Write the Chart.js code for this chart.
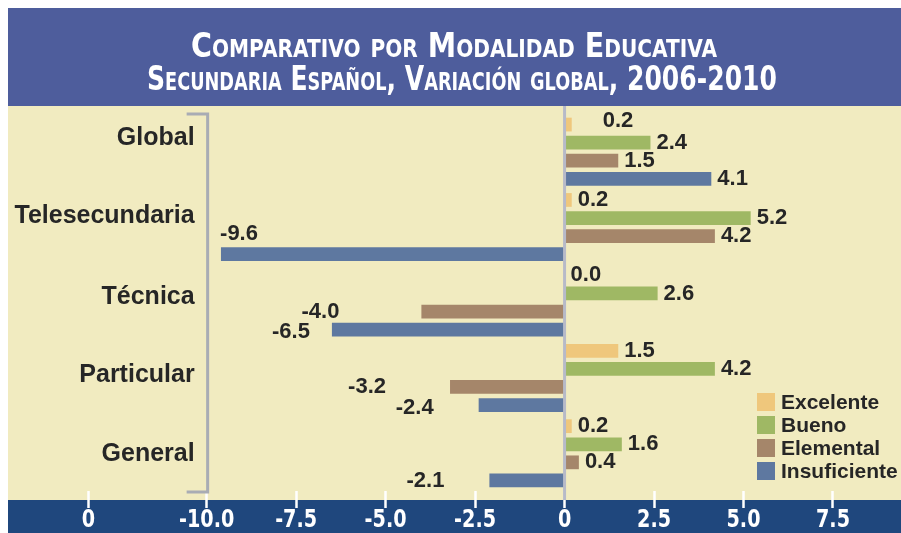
<!DOCTYPE html>
<html>
<head>
<meta charset="utf-8">
<script src="https://cdn.jsdelivr.net/npm/chart.js@4.4.1/dist/chart.umd.min.js"></script>
<style>
  html, body { margin: 0; padding: 0; background: #fff; }
  #wrap { position: relative; width: 901px; height: 533px; }
</style>
</head>
<body>
<div id="wrap"><canvas id="chart"></canvas></div>
<script>
// Data
const categories = ["Global", "Telesecundaria", "Técnica", "Particular", "General"];
const seriesNames = ["Excelente", "Bueno", "Elemental", "Insuficiente"];
const excelente = [0.2, 0.2, 0.0, 1.5, 0.2];
const bueno = [2.4, 5.2, 2.6, 4.2, 1.6];
const elemental = [1.5, 4.2, -4.0, -3.2, 0.4];
const insuficiente = [4.1, -9.6, -6.5, -2.4, -2.1];
const tickValues = [-13.3, -10, -7.5, -5, -2.5, 0, 2.5, 5, 7.5];
const tickLabels = ["0", "-10.0", "-7.5", "-5.0", "-2.5", "0", "2.5", "5.0", "7.5"];
const titleLines = ["Comparativo por Modalidad Educativa", "Secundaria Español, Variación global, 2006-2010"];

const seriesColors = ["#efc77c", "#9fb864", "#a5866a", "#5e78a0"];

// label nudges (px), keyed "dataset-index"
const labelNudge = {
  "0-0": { dx: 25, dy: -4 },
  "3-1": { dx: 82, dy: -20 },
  "2-2": { dx: -37, dy: 0 },
  "3-2": { dx: 23, dy: 2 },
  "2-3": { dx: -19, dy: 0 },
  "3-3": { dx: 0, dy: 3 }
};
// category names sit a bit off the group centres
const categoryNudge = [-14, -11, -5, -3, 1];

const SANS = "'Liberation Sans', Arial, sans-serif";

const backdrop = {
  id: "backdrop",
  beforeDraw(chart) {
    const ctx = chart.ctx;
    ctx.save();
    ctx.fillStyle = "#ffffff";
    ctx.fillRect(0, 0, chart.width, chart.height);
    ctx.fillStyle = "#4e5d9c";
    ctx.fillRect(8, 8, chart.width - 8, 98);
    ctx.fillStyle = "#f1ebc0";
    ctx.fillRect(8, 106, chart.width - 8, 394);
    ctx.fillStyle = "#1f477d";
    ctx.fillRect(8, 500, chart.width - 8, chart.height - 500);

    // title, small caps, squeezed to the narrow width of the original
    ctx.fillStyle = "#ffffff";
    ctx.textAlign = "center";
    ctx.textBaseline = "alphabetic";
    ctx.font = "small-caps bold 34px 'DejaVu Sans'";
    ctx.fillText(titleLines[0], 454, 57, 526);
    ctx.fillText(titleLines[1], 462, 90, 630);
    ctx.restore();
  },
  beforeDatasetsDraw(chart) {
    const ctx = chart.ctx;
    const x = chart.scales.x;
    const y = chart.scales.y;
    ctx.save();
    // bracket next to the category names
    const bx = x.getPixelForValue(-10) + 1;
    ctx.strokeStyle = "#a9acb4";
    ctx.lineWidth = 3;
    ctx.beginPath();
    ctx.moveTo(bx - 21, 114);
    ctx.lineTo(bx, 114);
    ctx.lineTo(bx, 492);
    ctx.lineTo(bx - 21, 492);
    ctx.stroke();

    // category names
    ctx.fillStyle = "#262626";
    ctx.font = "bold 25px " + SANS;
    ctx.textAlign = "right";
    ctx.textBaseline = "middle";
    categories.forEach((c, i) => {
      ctx.fillText(c, bx - 13, y.getPixelForValue(i) + categoryNudge[i]);
    });
    ctx.restore();
  },
  afterDatasetsDraw(chart) {
    const ctx = chart.ctx;
    const x = chart.scales.x;
    ctx.save();
    // zero line
    const zx = x.getPixelForValue(0);
    ctx.strokeStyle = "#b7bac8";
    ctx.lineWidth = 3;
    ctx.beginPath();
    ctx.moveTo(zx, 106);
    ctx.lineTo(zx, 500);
    ctx.stroke();

    // value labels
    ctx.fillStyle = "#262626";
    ctx.font = "bold 22px " + SANS;
    ctx.textBaseline = "middle";
    chart.data.datasets.forEach((ds, di) => {
      const meta = chart.getDatasetMeta(di);
      meta.data.forEach((bar, i) => {
        const v = ds.data[i];
        const n = labelNudge[di + "-" + i] || { dx: 0, dy: 0 };
        if (v >= 0) {
          ctx.textAlign = "left";
          ctx.fillText(v.toFixed(1), Math.max(bar.x, zx) + 6 + n.dx, bar.y + n.dy);
        } else {
          ctx.textAlign = "right";
          ctx.fillText(v.toFixed(1), bar.x - 45 + n.dx, bar.y + n.dy);
        }
      });
    });

    // legend
    ctx.font = "bold 21px " + SANS;
    ctx.textAlign = "left";
    seriesNames.forEach((name, i) => {
      const ly = 402 + i * 23;
      ctx.fillStyle = seriesColors[i];
      ctx.fillRect(757, ly - 9, 18, 18);
      ctx.fillStyle = "#262626";
      ctx.fillText(name, 781, ly + 1);
    });
    ctx.restore();
  },
  afterDraw(chart) {
    // x tick labels in a narrow face, placed by the x scale
    const ctx = chart.ctx;
    const x = chart.scales.x;
    ctx.save();
    ctx.fillStyle = "#ffffff";
    ctx.font = "bold 24px 'DejaVu Sans'";
    ctx.textAlign = "center";
    ctx.textBaseline = "alphabetic";
    tickValues.forEach((v, i) => {
      ctx.save();
      ctx.translate(x.getPixelForValue(v), 527);
      ctx.scale(0.8, 1);
      ctx.fillText(tickLabels[i], 0, 0);
      ctx.restore();
    });
    ctx.restore();
  }
};

const datasets = [excelente, bueno, elemental, insuficiente].map((values, i) => ({
  label: seriesNames[i],
  data: values,
  backgroundColor: seriesColors[i],
  borderWidth: 0,
  categoryPercentage: 0.96,
  barPercentage: 0.76
}));

new Chart(document.getElementById("chart"), {
  type: "bar",
  data: { labels: categories, datasets: datasets },
  options: {
    indexAxis: "y",
    responsive: true,
    maintainAspectRatio: false,
    animation: false,
    layout: { padding: { left: 8, right: 0, top: 114, bottom: 0 } },
    plugins: {
      legend: { display: false },
      tooltip: { enabled: false },
      title: { display: false }
    },
    scales: {
      y: { display: false },
      x: {
        min: -15.55,
        max: 9.4,
        afterBuildTicks(scale) {
          scale.ticks = tickValues.map(v => ({ value: v }));
        },
        afterFit(scale) {
          scale.height = 42;
        },
        border: { display: false },
        grid: {
          drawOnChartArea: false,
          drawTicks: true,
          tickLength: 17,
          tickWidth: 2.5,
          tickColor: "#ffffff",
          color: "#ffffff"
        },
        ticks: { display: false, autoSkip: false, maxRotation: 0 }
      }
    }
  },
  plugins: [backdrop]
});
</script>
</body>
</html>
